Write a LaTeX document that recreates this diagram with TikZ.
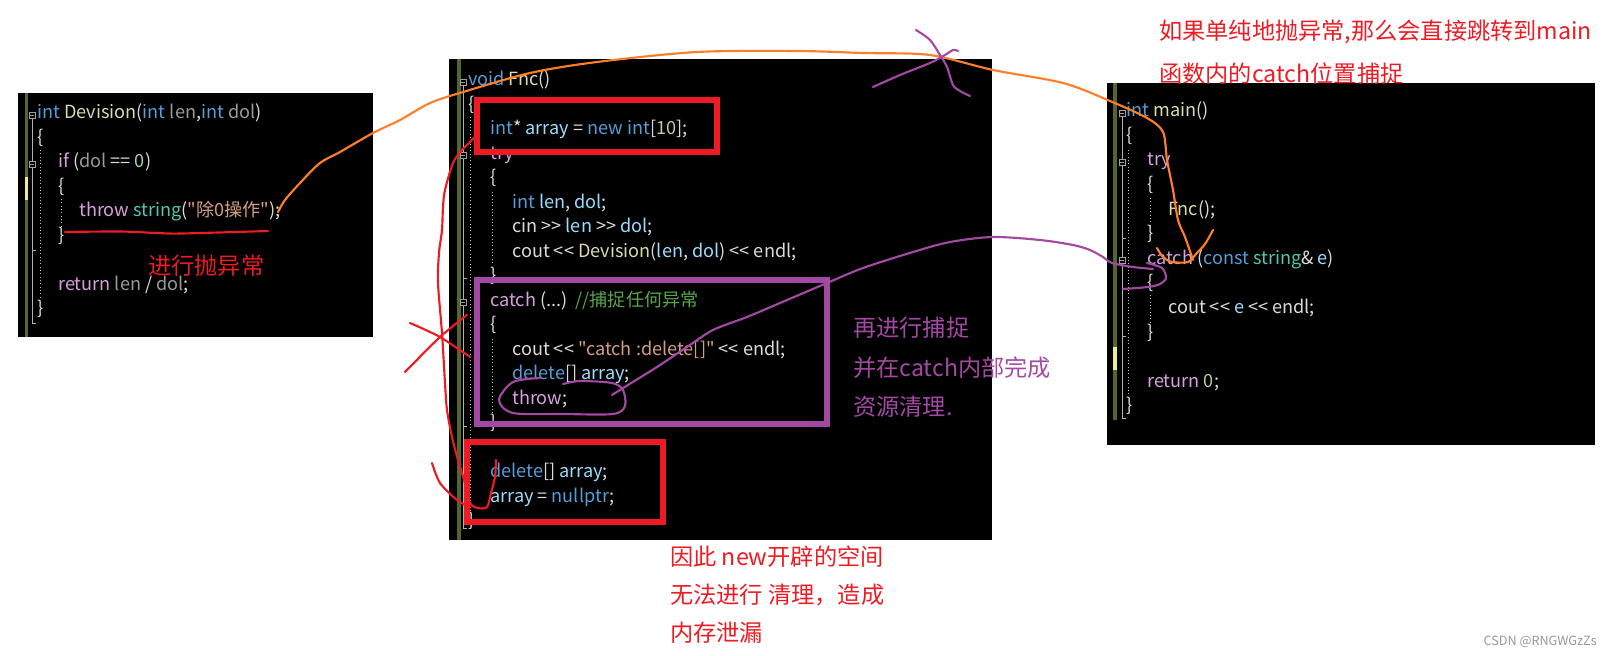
\documentclass[tikz,border=0pt]{standalone}
\usepackage{fontspec}
\setmainfont{Noto Sans CJK SC}
\setmonofont{Noto Sans CJK SC}
\usetikzlibrary{positioning}

% editor colours
\definecolor{kwc}{HTML}{569CD6}
\definecolor{ctc}{HTML}{D8A0DF}
\definecolor{fnc}{HTML}{DCDCAA}
\definecolor{prc}{HTML}{9A9A9A}
\definecolor{vrc}{HTML}{9CDCFE}
\definecolor{tyc}{HTML}{4EC9B0}
\definecolor{stc}{HTML}{D69D85}
\definecolor{cmc}{HTML}{57A64A}
\definecolor{nmc}{HTML}{B5CEA8}
\definecolor{plc}{HTML}{DCDCDC}
\definecolor{barc}{RGB}{84,102,44}
\definecolor{marc}{RGB}{238,238,140}
% paint colours
\definecolor{pred}{HTML}{ED1C24}
\definecolor{porange}{HTML}{FF7F27}
\definecolor{ppurple}{HTML}{A349A4}

\newcommand\kw[1]{\textcolor{kwc}{#1}}
\newcommand\ct[1]{\textcolor{ctc}{#1}}
\newcommand\fn[1]{\textcolor{fnc}{#1}}
\newcommand\prm[1]{\textcolor{prc}{#1}}
\newcommand\vr[1]{\textcolor{vrc}{#1}}
\newcommand\ty[1]{\textcolor{tyc}{#1}}
\newcommand\st[1]{\textcolor{stc}{#1}}
\newcommand\cm[1]{\textcolor{cmc}{#1}}
\newcommand\nm[1]{\textcolor{nmc}{#1}}
\newcommand\foldmark[2]{\draw[gray!75,fill=black,line width=0.5pt] (#1-3,#2-3) rectangle (#1+3,#2+3); \draw[gray!75,line width=0.5pt] (#1-1.6,#2) -- (#1+1.6,#2);}

\begin{document}
\begin{tikzpicture}[x=0.75pt,y=-0.75pt]
	\tikzset{
		codeline/.style={anchor=west,inner sep=0pt,text=plc,font=\ttfamily\fontsize{13.6}{13.6}\selectfont,text height=0.75em,text depth=0.2em},
		note/.style={anchor=west,inner sep=0pt,font=\fontsize{17.4}{17.4}\selectfont},
		outl/.style={gray!60,line width=0.5pt},
		guide/.style={gray!50,line width=0.5pt,dotted},
		pen/.style={line width=1.6pt,line cap=round,line join=round},
		frame/.style={line width=3.8pt}
	}
	\useasboundingbox (0,0) rectangle (1612,656);
	\fill[white] (0,0) rectangle (1612,656);
	
	%%% left panel: Devision
	\fill[black] (18,93) rectangle (373,337);
	\fill[barc] (25,93) rectangle (28,337);
	\fill[marc] (25,177) rectangle (28,200);
	\draw[outl] (32,118) -- (32,323) -- (36,323);
	\draw[outl] (32,250) -- (36,250);
	\draw[guide] (40,150) -- (40,300);
	\draw[guide] (61,199) -- (61,227);
	\foldmark{32}{115}
	\foldmark{32}{164}
	\node[codeline] (dv0) at (37,115) {\kw{int} \fn{Devision}(\kw{int} \prm{len},\kw{int} \prm{dol})};
	\node[codeline] (dv1) at (37,139.5) {\{};
	\node[codeline] (dv2) at (58,164) {\ct{if} (\prm{dol} == \nm{0})};
	\node[codeline] (dv3) at (58,188.5) {\{};
	\node[codeline] (dv4) at (79,213) {\ct{throw} \ty{string}(\st{"除0操作"});};
	\node[codeline] (dv5) at (58,237.5) {\}};
	\node[codeline] (dv7) at (58,286.5) {\ct{return} \prm{len} / \prm{dol};};
	\node[codeline] (dv8) at (37,311) {\}};
	
	%%% middle panel: Fnc
	\fill[black] (449,59) rectangle (992,540);
	\fill[barc] (457,59) rectangle (461,540);
	\draw[outl] (463,86) -- (463,528) -- (467,528);
	\draw[outl] (463,278) -- (467,278);
	\draw[outl] (463,426) -- (467,426);
	\draw[guide] (470,117) -- (470,512);
	\draw[guide] (492,192) -- (492,265);
	\draw[guide] (492,339) -- (492,414);
	\foldmark{463}{82}
	\foldmark{463}{155.5}
	\foldmark{463}{302.5}
	\node[codeline] (fn0) at (468,82) {\kw{void} \fn{Fnc}()};
	\node[codeline] (fn1) at (468,106.5) {\{};
	\node[codeline] (fn2) at (490,131) {\kw{int}* \vr{array} = \kw{new} \kw{int}[\nm{10}];};
	\node[codeline] (fn3) at (490,155.5) {\ct{try}};
	\node[codeline] (fn4) at (490,180) {\{};
	\node[codeline] (fn5) at (512,204.5) {\kw{int} \vr{len}, \vr{dol};};
	\node[codeline] (fn6) at (512,229) {cin >> \vr{len} >> \vr{dol};};
	\node[codeline] (fn7) at (512,253.5) {cout << \fn{Devision}(\vr{len}, \vr{dol}) << endl;};
	\node[codeline] (fn8) at (490,278) {\}};
	\node[codeline] (fn9) at (490,302.5) {\ct{catch} (...)\ \ \cm{//捕捉任何异常}};
	\node[codeline] (fn10) at (490,327) {\{};
	\node[codeline] (fn11) at (512,351.5) {cout << \st{"catch :delete[]"} << endl;};
	\node[codeline] (fn12) at (512,376) {\kw{delete}[] \vr{array};};
	\node[codeline] (fn13) at (512,400.5) {\ct{throw};};
	\node[codeline] (fn14) at (490,425) {\}};
	\node[codeline] (fn16) at (490,474) {\kw{delete}[] \vr{array};};
	\node[codeline] (fn17) at (490,498.5) {\vr{array} = \kw{nullptr};};
	\node[codeline] (fn18) at (468,523) {\}};
	
	%%% right panel: main
	\fill[black] (1107,83) rectangle (1595,445);
	\fill[barc] (1113,83) rectangle (1117,420);
	\fill[marc] (1113,347) rectangle (1117,370);
	\draw[outl] (1122,117) -- (1122,418) -- (1126,418);
	\draw[outl] (1122,238) -- (1126,238);
	\draw[outl] (1122,336) -- (1126,336);
	\draw[guide] (1128,150) -- (1128,400);
	\draw[guide] (1150,198) -- (1150,226);
	\draw[guide] (1150,295) -- (1150,323);
	\foldmark{1122}{113}
	\foldmark{1122}{162.2}
	\foldmark{1122}{260.6}
	\node[codeline] (mn0) at (1126,113) {\kw{int} \fn{main}()};
	\node[codeline] (mn1) at (1126,137.6) {\{};
	\node[codeline] (mn2) at (1147,162.2) {\ct{try}};
	\node[codeline] (mn3) at (1147,186.8) {\{};
	\node[codeline] (mn4) at (1168,211.4) {\fn{Fnc}();};
	\node[codeline] (mn5) at (1147,236) {\}};
	\node[codeline] (mn6) at (1147,260.6) {\ct{catch} (\kw{const} \ty{string}\& \vr{e})};
	\node[codeline] (mn7) at (1147,285.2) {\{};
	\node[codeline] (mn8) at (1168,309.8) {cout << \vr{e} << endl;};
	\node[codeline] (mn9) at (1147,334.4) {\}};
	\node[codeline] (mn11) at (1147,383.6) {\ct{return} \nm{0};};
	\node[codeline] (mn12) at (1126,408.2) {\}};
	
	%%% boxes
	\draw[pred,frame] (477,100) rectangle (717,152);
	\draw[ppurple,frame] (477,280) rectangle (827,424);
	\draw[pred,frame] (467,442) rectangle (663,522);
	
	%%% notes
	\node[note,text=pred] (nthrow) at (148,266) {进行抛异常};
	\node[note,text=pred] (njump1) at (1159,32) {如果单纯地抛异常,那么会直接跳转到main};
	\node[note,text=pred] (njump2) at (1159,74) {函数内的catch位置捕捉};
	\node[note,text=ppurple] (ncatch1) at (853,328) {再进行捕捉};
	\node[note,text=ppurple] (ncatch2) at (853,368) {并在catch内部完成};
	\node[note,text=ppurple] (ncatch3) at (853,407) {资源清理.};
	\node[note,text=pred] (nleak1) at (670,557) {因此 new开辟的空间};
	\node[note,text=pred] (nleak2) at (670,595) {无法进行 清理，造成};
	\node[note,text=pred] (nleak3) at (670,633) {内存泄漏};
	\node[anchor=east,inner sep=0pt,text=gray!80,font=\fontsize{9.5}{9.5}\selectfont] (mark) at (1597,642) {CSDN @RNGWGzZs};
	
	%%% pen strokes
	% underline of the throw
	\draw[pred,pen] plot[smooth] coordinates {(65,232) (120,231.5) (157,233) (182,233.5) (268,231)};
	% orange: throw jumps straight to main
	\draw[porange,pen] plot[smooth] coordinates {(278,212) (285,200) (300,183) (320,163) (340,152) (373,133) (400,120) (430,103) (463,92) (530,73) (597,62) (697,52) (797,51) (863,53) (930,55) (993,70) (1063,83) (1110,101) (1147,118) (1163,132) (1167,160) (1173,190) (1178,220) (1185,237) (1193,260)};
	\draw[porange,pen] plot[smooth] coordinates {(1157,248) (1163,257) (1172,262) (1188,262) (1196,254) (1205,244) (1213,230)};
	% purple cross on the orange path
	\draw[ppurple,pen] plot[smooth] coordinates {(873,87) (900,75) (930,63) (945,55) (953,50) (958,51)};
	\draw[ppurple,pen] plot[smooth] coordinates {(916,30) (930,40) (940,55) (947,67) (953,85) (960,91) (970,96)};
	% purple: rethrow to the catch in main
	\draw[ppurple,pen] plot[smooth] coordinates {(540,378) (513,382) (499,400) (513,413) (563,414) (613,414) (625,406) (623,390) (612,383) (580,381) (563,384)};
	\draw[ppurple,pen] plot[smooth] coordinates {(612,395) (628,385) (657,367) (687,347) (713,330) (747,317) (780,303) (827,283) (863,268) (913,252) (950,242) (993,237) (1040,240) (1073,245) (1090,250) (1103,257) (1112,263) (1133,267) (1153,269)};
	\draw[ppurple,pen] plot[smooth] coordinates {(1147,263) (1162,268) (1166,278) (1160,284) (1148,287) (1123,289)};
	% red: cleanup is skipped
	\draw[pred,pen] plot[smooth] coordinates {(477,135) (462,150) (453,163) (445,190) (443,207) (442,230) (439,253) (438,283) (442,333) (445,383) (447,410) (452,437) (458,460) (465,483) (470,503) (478,508) (487,507) (491,493) (495,477) (496,460)};
	\draw[pred,pen] plot[smooth] coordinates {(432,463) (440,483) (457,500) (470,507)};
	\draw[pred,pen] plot[smooth] coordinates {(410,323) (440,337) (470,357)};
	\draw[pred,pen] plot[smooth] coordinates {(467,315) (440,337) (405,372)};
\end{tikzpicture}
\end{document}
